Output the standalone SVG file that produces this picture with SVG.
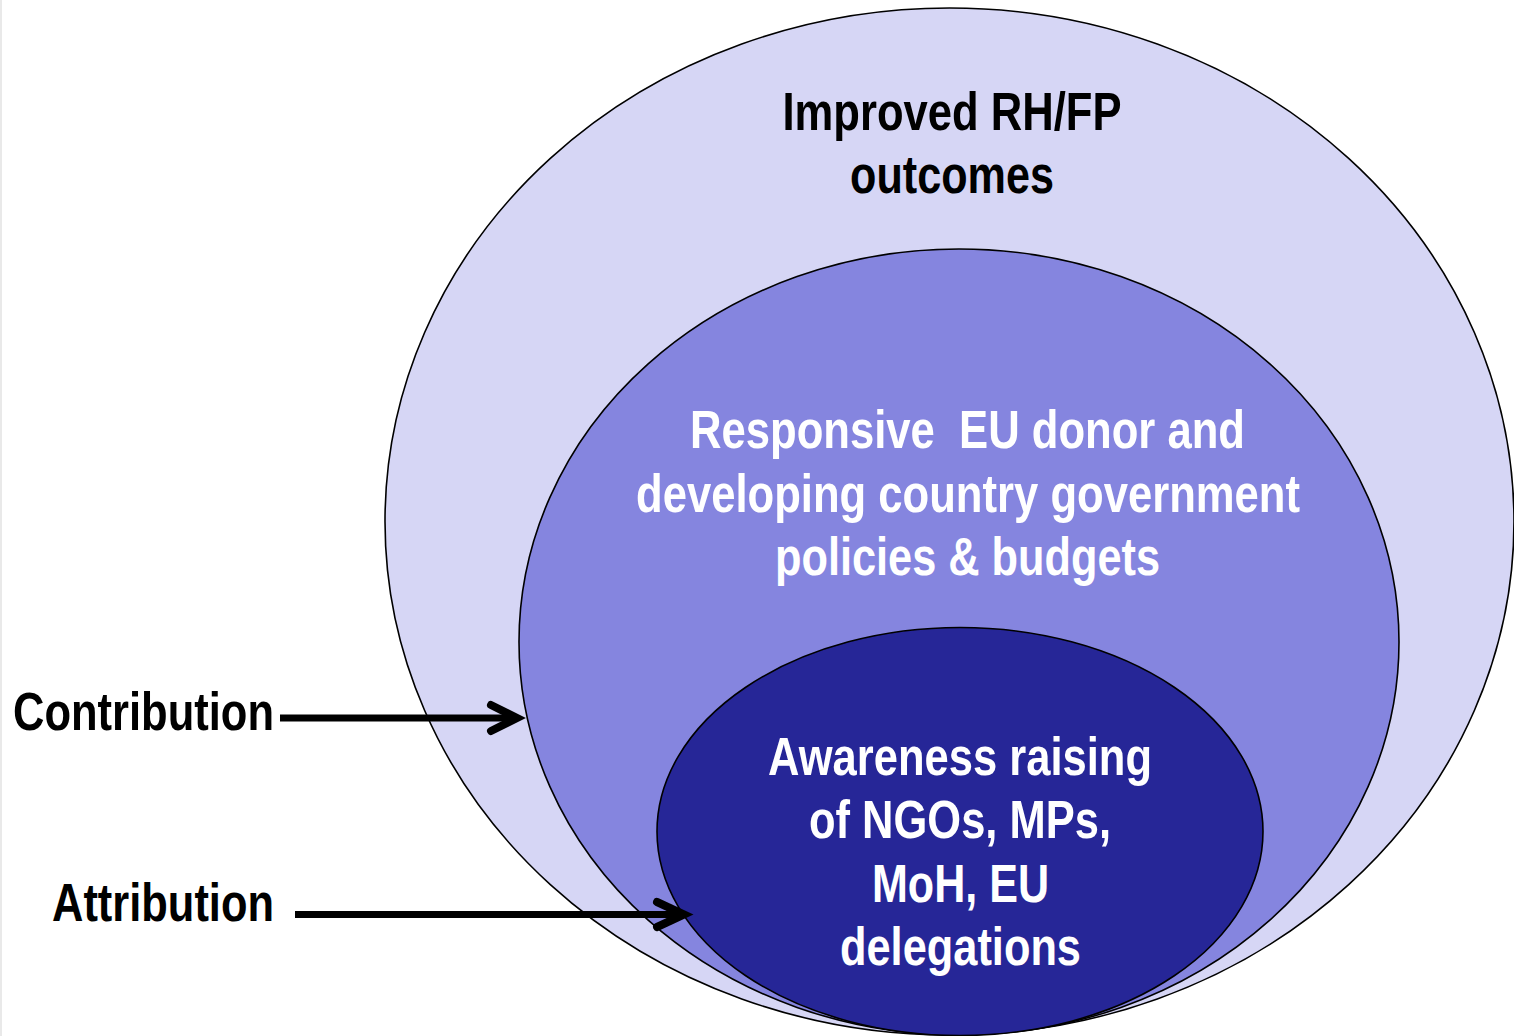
<svg xmlns="http://www.w3.org/2000/svg" width="1514" height="1036" viewBox="0 0 1514 1036">
<style>
.t{font-family:"Liberation Sans Narrow","Arial Narrow","Liberation Sans",Arial,sans-serif;font-weight:bold;font-size:53px;text-anchor:middle}
.dark{fill:#000}
.light{fill:#fff}
.lbl{font-family:"Liberation Sans Narrow","Arial Narrow","Liberation Sans",Arial,sans-serif;font-weight:bold;font-size:53px;fill:#000}
.ell{stroke:#000;stroke-width:1.6}
.conn{stroke:#000;fill:none;stroke-width:7}
.head{stroke:#000;fill:none;stroke-width:8;stroke-linecap:round;stroke-linejoin:miter}
</style>
<rect x="0" y="0" width="1514" height="1036" fill="#fff"/>
<line x1="1" y1="0" x2="1" y2="1036" stroke="#e2e2e2" stroke-width="1.5"/>
<g id="outer">
<ellipse class="ell" cx="949.5" cy="521.5" rx="564.5" ry="513.5" fill="#D6D6F5"/>
<text class="t dark" x="952" y="130" textLength="339" lengthAdjust="spacingAndGlyphs">Improved RH/FP</text>
<text class="t dark" x="952" y="193" textLength="204" lengthAdjust="spacingAndGlyphs">outcomes</text>
</g>
<g id="middle">
<ellipse class="ell" cx="959" cy="642" rx="440" ry="393" fill="#8585DF"/>
<text class="t light" x="967.5" y="448" textLength="555" lengthAdjust="spacingAndGlyphs">Responsive&#160; EU donor and</text>
<text class="t light" x="968" y="512" textLength="664" lengthAdjust="spacingAndGlyphs">developing country government</text>
<text class="t light" x="967.5" y="575" textLength="385" lengthAdjust="spacingAndGlyphs">policies &amp; budgets</text>
</g>
<g id="inner">
<ellipse class="ell" cx="960" cy="831.5" rx="303" ry="204" fill="#262697"/>
<text class="t light" x="960" y="775" textLength="384" lengthAdjust="spacingAndGlyphs">Awareness raising</text>
<text class="t light" x="960" y="838" textLength="302" lengthAdjust="spacingAndGlyphs">of NGOs, MPs,</text>
<text class="t light" x="960.5" y="902" textLength="177" lengthAdjust="spacingAndGlyphs">MoH, EU</text>
<text class="t light" x="960.5" y="965" textLength="241" lengthAdjust="spacingAndGlyphs">delegations</text>
</g>
<g id="contribution">
<text class="lbl" x="13" y="730" textLength="261" lengthAdjust="spacingAndGlyphs">Contribution</text>
</g>
<g id="attribution">
<text class="lbl" x="52" y="921" textLength="222" lengthAdjust="spacingAndGlyphs">Attribution</text>
</g>
<g id="connectors">
<line class="conn" x1="280" y1="718" x2="516" y2="718"/>
<polyline class="head" points="491,705 517,718 491,731"/>
<line class="conn" x1="295" y1="914.5" x2="682" y2="914.5"/>
<polyline class="head" points="657,902 684,914.5 657,927"/>
</g>
</svg>
